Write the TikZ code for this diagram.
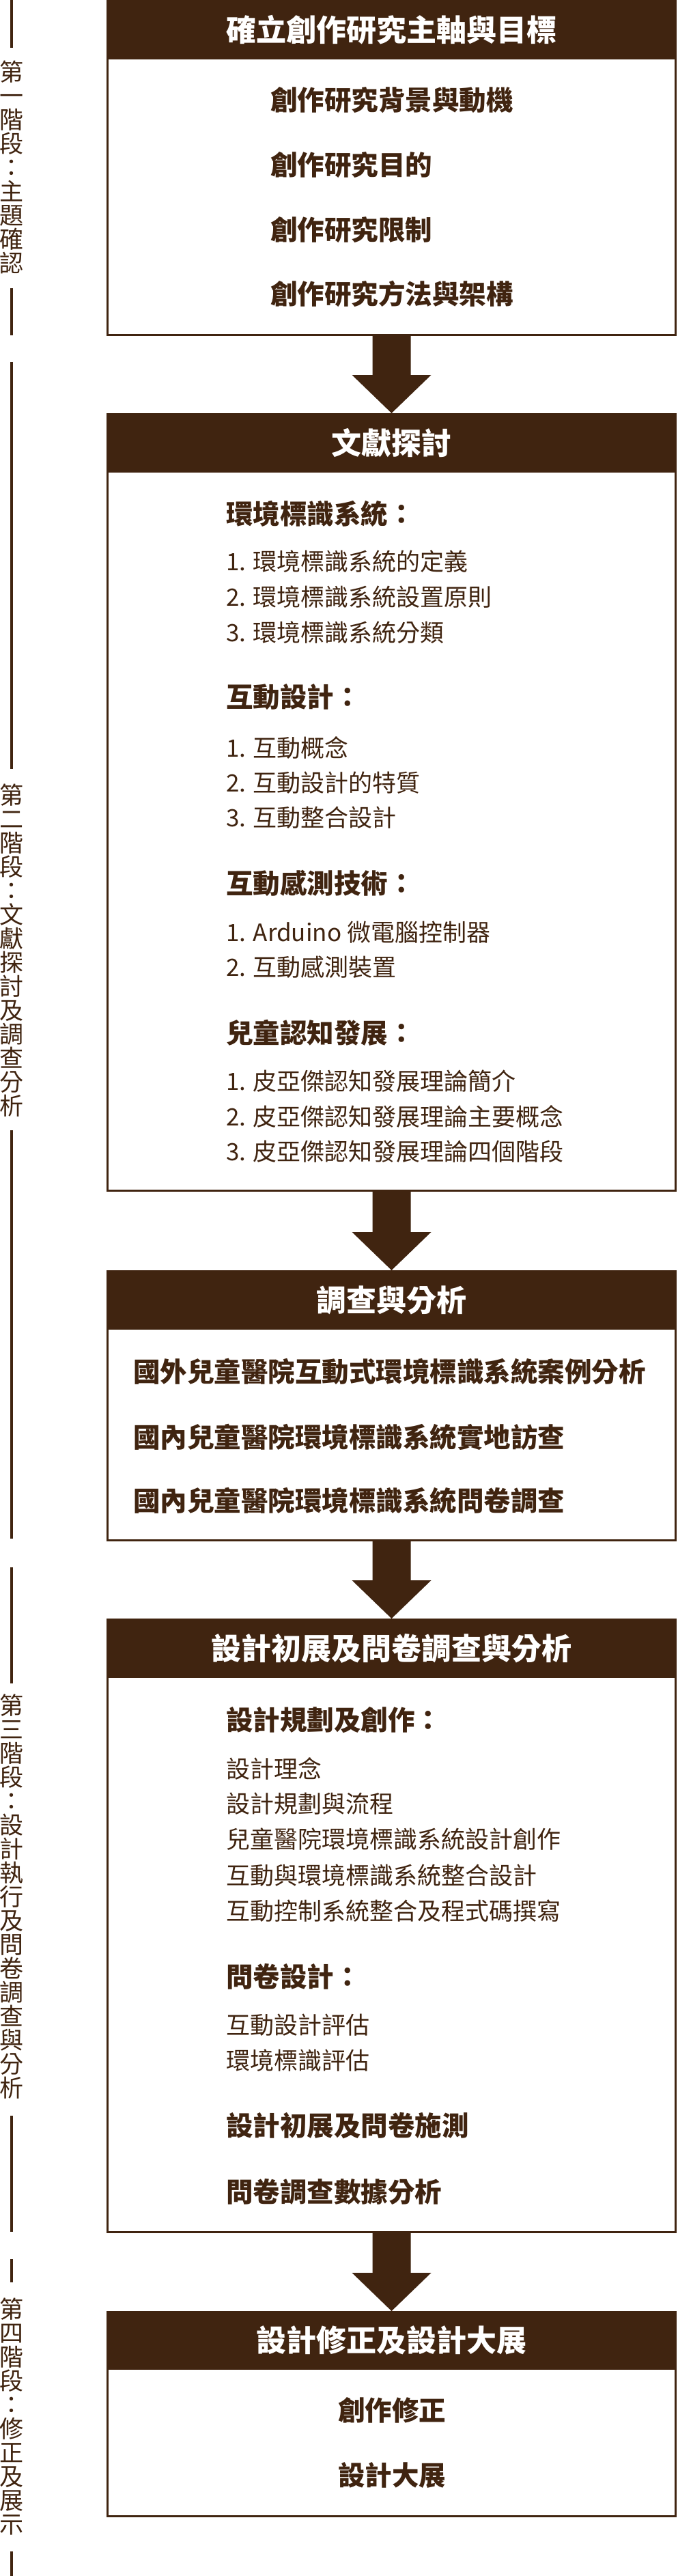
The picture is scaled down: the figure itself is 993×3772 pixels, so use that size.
\documentclass[tikz,border=0pt]{standalone}
\usepackage{fontspec}
\setmainfont{Noto Sans CJK TC}
\usetikzlibrary{calc}
\definecolor{brn}{RGB}{64,36,16}
\tikzset{
  boxbody/.style={draw=brn, line width=3pt, minimum width=832pt, inner sep=0pt, anchor=north},
  hdr/.style={fill=brn, text=white, minimum width=835pt, inner sep=0pt, anchor=north,
    font=\fontsize{44}{44}\selectfont\bfseries},
  sub/.style={anchor=west, inner sep=0pt, text=brn, font=\fontsize{39.5}{40}\selectfont\bfseries},
  itm/.style={anchor=west, inner sep=0pt, text=brn, font=\fontsize{35}{35}\selectfont},
  ctr/.style={anchor=center, inner sep=0pt, text=brn, font=\fontsize{39.5}{40}\selectfont\bfseries},
  stagetext/.style={inner sep=0pt, text=brn, align=center, font=\fontsize{35}{35}\selectfont},
  stageline/.style={draw=brn, line width=4pt},
}
\newcommand\bigarrow[2]{%
  \fill[brn] ($(#1.south)+(-28,0)$) -- ($(#1.south)+(28,0)$) -- ($(#2.north)+(28,-56)$)
    -- ($(#2.north)+(58,-56)$) -- (#2.north) -- ($(#2.north)+(-58,-56)$)
    -- ($(#2.north)+(-28,-56)$) -- cycle;}
\begin{document}
\begin{tikzpicture}[x=1pt,y=-1pt]
\useasboundingbox[fill=white] (0,0) rectangle (993,3772);

% ---------- Box 1 ----------
\node[boxbody, minimum height=487pt] (b1) at (573.5,1.5) {};
\node[hdr, minimum height=87pt] (h1) at (573.5,0) {確立創作研究主軸與目標};
\node[sub] (t11) at (396,147) {創作研究背景與動機};
\node[sub] (t12) at (396,242) {創作研究目的};
\node[sub] (t13) at (396,337) {創作研究限制};
\node[sub] (t14) at (396,430) {創作研究方法與架構};

% ---------- Box 2 ----------
\node[boxbody, minimum height=1135pt] (b2) at (573.5,606.5) {};
\node[hdr, minimum height=87pt] (h2) at (573.5,605) {文獻探討};
\node[sub] (s21) at (331,752) {環境標識系統：};
\node[itm] (i211) at (331,822) {1. 環境標識系統的定義};
\node[itm] (i212) at (331,874) {2. 環境標識系統設置原則};
\node[itm] (i213) at (331,926) {3. 環境標識系統分類};
\node[sub] (s22) at (331,1021) {互動設計：};
\node[itm] (i221) at (331,1095) {1. 互動概念};
\node[itm] (i222) at (331,1146) {2. 互動設計的特質};
\node[itm] (i223) at (331,1197) {3. 互動整合設計};
\node[sub] (s23) at (331,1293) {互動感測技術：};
\node[itm] (i231) at (331,1365) {1. Arduino 微電腦控制器};
\node[itm] (i232) at (331,1416) {2. 互動感測裝置};
\node[sub] (s24) at (331,1512) {兒童認知發展：};
\node[itm] (i241) at (331,1583) {1. 皮亞傑認知發展理論簡介};
\node[itm] (i242) at (331,1635) {2. 皮亞傑認知發展理論主要概念};
\node[itm] (i243) at (331,1686) {3. 皮亞傑認知發展理論四個階段};

% ---------- Box 3 ----------
\node[boxbody, minimum height=392pt] (b3) at (573.5,1861.5) {};
\node[hdr, minimum height=87pt] (h3) at (573.5,1860) {調查與分析};
\node[sub] (t31) at (195,2008) {國外兒童醫院互動式環境標識系統案例分析};
\node[sub] (t32) at (195,2104) {國內兒童醫院環境標識系統實地訪查};
\node[sub] (t33) at (195,2197) {國內兒童醫院環境標識系統問卷調查};

% ---------- Box 4 ----------
\node[boxbody, minimum height=895pt] (b4) at (573.5,2371.5) {};
\node[hdr, minimum height=87pt] (h4) at (573.5,2370) {設計初展及問卷調查與分析};
\node[sub] (s41) at (331,2519) {設計規劃及創作：};
\node[itm] (i411) at (331,2590) {設計理念};
\node[itm] (i412) at (331,2641) {設計規劃與流程};
\node[itm] (i413) at (331,2693) {兒童醫院環境標識系統設計創作};
\node[itm] (i414) at (331,2746) {互動與環境標識系統整合設計};
\node[itm] (i415) at (331,2798) {互動控制系統整合及程式碼撰寫};
\node[sub] (s42) at (331,2894) {問卷設計：};
\node[itm] (i421) at (331,2965) {互動設計評估};
\node[itm] (i422) at (331,3017) {環境標識評估};
\node[sub] (s43) at (331,3113) {設計初展及問卷施測};
\node[sub] (s44) at (331,3209) {問卷調查數據分析};

% ---------- Box 5 ----------
\node[boxbody, minimum height=297pt] (b5) at (573.5,3385.5) {};
\node[hdr, minimum height=86pt] (h5) at (573.5,3384) {設計修正及設計大展};
\node[ctr] (t51) at (574,3529) {創作修正};
\node[ctr] (t52) at (574,3625) {設計大展};

% ---------- Arrows ----------
\bigarrow{b1}{h2}
\bigarrow{b2}{h3}
\bigarrow{b3}{h4}
\bigarrow{b4}{h5}

% ---------- Stage column ----------
\coordinate (l1a) at (17,0);    \coordinate (l1b) at (17,70);
\coordinate (l1c) at (17,422);  \coordinate (l1d) at (17,491);
\node[stagetext] (st1) at (17,245) {第\\一\\階\\段\\：\\主\\題\\確\\認};
\draw[stageline] (l1a) -- (l1b);
\draw[stageline] (l1c) -- (l1d);

\coordinate (l2a) at (17,530);  \coordinate (l2b) at (17,1126);
\coordinate (l2c) at (17,1655); \coordinate (l2d) at (17,2253);
\node[stagetext] (st2) at (17,1392) {第\\二\\階\\段\\：\\文\\獻\\探\\討\\及\\調\\查\\分\\析};
\draw[stageline] (l2a) -- (l2b);
\draw[stageline] (l2c) -- (l2d);

\coordinate (l3a) at (17,2295); \coordinate (l3b) at (17,2465);
\coordinate (l3c) at (17,3098); \coordinate (l3d) at (17,3268);
\node[stagetext] (st3) at (17,2777) {第\\三\\階\\段\\：\\設\\計\\執\\行\\及\\問\\卷\\調\\查\\與\\分\\析};
\draw[stageline] (l3a) -- (l3b);
\draw[stageline] (l3c) -- (l3d);

\coordinate (l4a) at (17,3308); \coordinate (l4b) at (17,3342);
\coordinate (l4c) at (17,3736); \coordinate (l4d) at (17,3772);
\node[stagetext] (st4) at (17,3538) {第\\四\\階\\段\\：\\修\\正\\及\\展\\示};
\draw[stageline] (l4a) -- (l4b);
\draw[stageline] (l4c) -- (l4d);
\end{tikzpicture}
\end{document}
